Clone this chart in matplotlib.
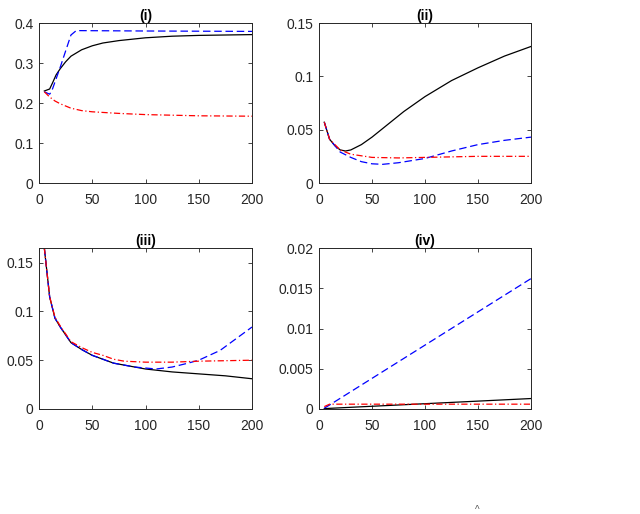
import matplotlib
matplotlib.use("Agg")
import matplotlib.pyplot as plt

plt.rcParams['font.family'] = ['Liberation Sans', 'DejaVu Sans']

# Panel (i)
x1_black = [5, 10, 13, 16, 20, 25, 30, 40, 50, 60, 75, 100, 125, 150, 200]
y1_black = [0.230, 0.235, 0.252, 0.270, 0.286, 0.303, 0.317, 0.333, 0.343, 0.350, 0.356, 0.363, 0.367, 0.369, 0.371]
x1_blue = [5, 10, 12, 20, 30, 35, 100, 200]
y1_blue = [0.228, 0.222, 0.230, 0.290, 0.370, 0.381, 0.380, 0.379]
x1_red = [5, 10, 15, 20, 30, 40, 50, 75, 100, 150, 200]
y1_red = [0.228, 0.215, 0.205, 0.198, 0.187, 0.181, 0.178, 0.174, 0.171, 0.168, 0.167]

# Panel (ii)
x2_black = [5, 10, 15, 20, 25, 30, 40, 50, 60, 70, 80, 100, 125, 150, 175, 200]
y2_black = [0.057, 0.041, 0.035, 0.031, 0.030, 0.031, 0.036, 0.043, 0.051, 0.059, 0.067, 0.081, 0.096, 0.108, 0.119, 0.128]
x2_blue = [5, 10, 20, 30, 40, 50, 60, 75, 100, 125, 150, 175, 200]
y2_blue = [0.057, 0.041, 0.029, 0.024, 0.020, 0.018, 0.0175, 0.019, 0.023, 0.030, 0.036, 0.040, 0.043]
x2_red = [5, 10, 20, 30, 50, 75, 100, 150, 200]
y2_red = [0.057, 0.041, 0.031, 0.027, 0.024, 0.0235, 0.024, 0.025, 0.025]

# Panel (iii)
x3_black = [5, 10, 15, 20, 30, 40, 50, 60, 70, 80, 100, 125, 150, 175, 200]
y3_black = [0.165, 0.115, 0.093, 0.084, 0.068, 0.061, 0.055, 0.051, 0.047, 0.045, 0.041, 0.038, 0.036, 0.034, 0.031]
x3_blue = [5, 10, 15, 20, 30, 40, 50, 60, 70, 80, 90, 100, 110, 125, 140, 150, 170, 185, 200]
y3_blue = [0.165, 0.115, 0.093, 0.084, 0.068, 0.061, 0.055, 0.051, 0.047, 0.045, 0.043, 0.042, 0.041, 0.043, 0.047, 0.050, 0.060, 0.072, 0.084]
x3_red = [5, 10, 15, 20, 30, 40, 50, 60, 70, 80, 100, 125, 150, 200]
y3_red = [0.165, 0.115, 0.094, 0.085, 0.069, 0.063, 0.058, 0.055, 0.051, 0.049, 0.048, 0.048, 0.049, 0.050]

# Panel (iv)
x4_black = [5, 200]
y4_black = [0.00005, 0.0013]
x4_blue = [5, 10, 200]
y4_blue = [0.0001, 0.0005, 0.0162]
x4_red = [5, 10, 200]
y4_red = [0.0003, 0.0006, 0.0006]

titles = ['(i)', '(ii)', '(iii)', '(iv)']
ylims = [(0, 0.4), (0, 0.15), (0, 0.165), (0, 0.02)]
yticks = [[0, 0.1, 0.2, 0.3, 0.4], [0, 0.05, 0.1, 0.15], [0, 0.05, 0.1, 0.15],
          [0, 0.005, 0.01, 0.015, 0.02]]
ytick_labels = [['0', '0.1', '0.2', '0.3', '0.4'], ['0', '0.05', '0.1', '0.15'],
                ['0', '0.05', '0.1', '0.15'], ['0', '0.005', '0.01', '0.015', '0.02']]
xticks = [0, 50, 100, 150, 200]

data = [
    (x1_black, y1_black, x1_blue, y1_blue, x1_red, y1_red),
    (x2_black, y2_black, x2_blue, y2_blue, x2_red, y2_red),
    (x3_black, y3_black, x3_blue, y3_blue, x3_red, y3_red),
    (x4_black, y4_black, x4_blue, y4_blue, x4_red, y4_red),
]

W, H = 640, 514
fig = plt.figure(figsize=(W / 100, H / 100), dpi=100)
positions = [(39, 23, 252, 183), (319, 23, 531, 183), (39, 248, 252, 409), (319, 248, 531, 409)]
axcol = '#262626'
for i, (l, t, r, b) in enumerate(positions):
    ax = fig.add_axes([l / W, 1 - b / H, (r - l) / W, (b - t) / H])
    xb, yb, xbl, ybl, xr, yr = data[i]
    ax.plot(xb, yb, color='black', lw=0.9, ls='-')
    ax.plot(xbl, ybl, color='blue', lw=0.9, ls=(0, (6, 3)))
    ax.plot(xr, yr, color='red', lw=0.9, ls=(0, (5, 2, 1, 2)))
    ax.set_xlim(0, 200)
    ax.set_ylim(*ylims[i])
    ax.set_xticks(xticks)
    ax.set_xticklabels([str(v) for v in xticks])
    ax.set_yticks(yticks[i])
    ax.set_yticklabels(ytick_labels[i])
    ax.tick_params(direction='in', top=True, right=True, length=3, width=0.6,
                   labelsize=10, colors=axcol)
    ax.tick_params(axis='x', pad=7)
    ax.tick_params(axis='y', pad=4)
    for s in ax.spines.values():
        s.set_color(axcol)
        s.set_linewidth(0.7)
    ax.set_title(titles[i], fontsize=10, fontweight='bold', pad=2, color='black')

fig.text(477 / W, 1 - 510 / H, '^', fontsize=7, color='#555555', ha='center', va='center')

fig.savefig('out.png', dpi=100)
